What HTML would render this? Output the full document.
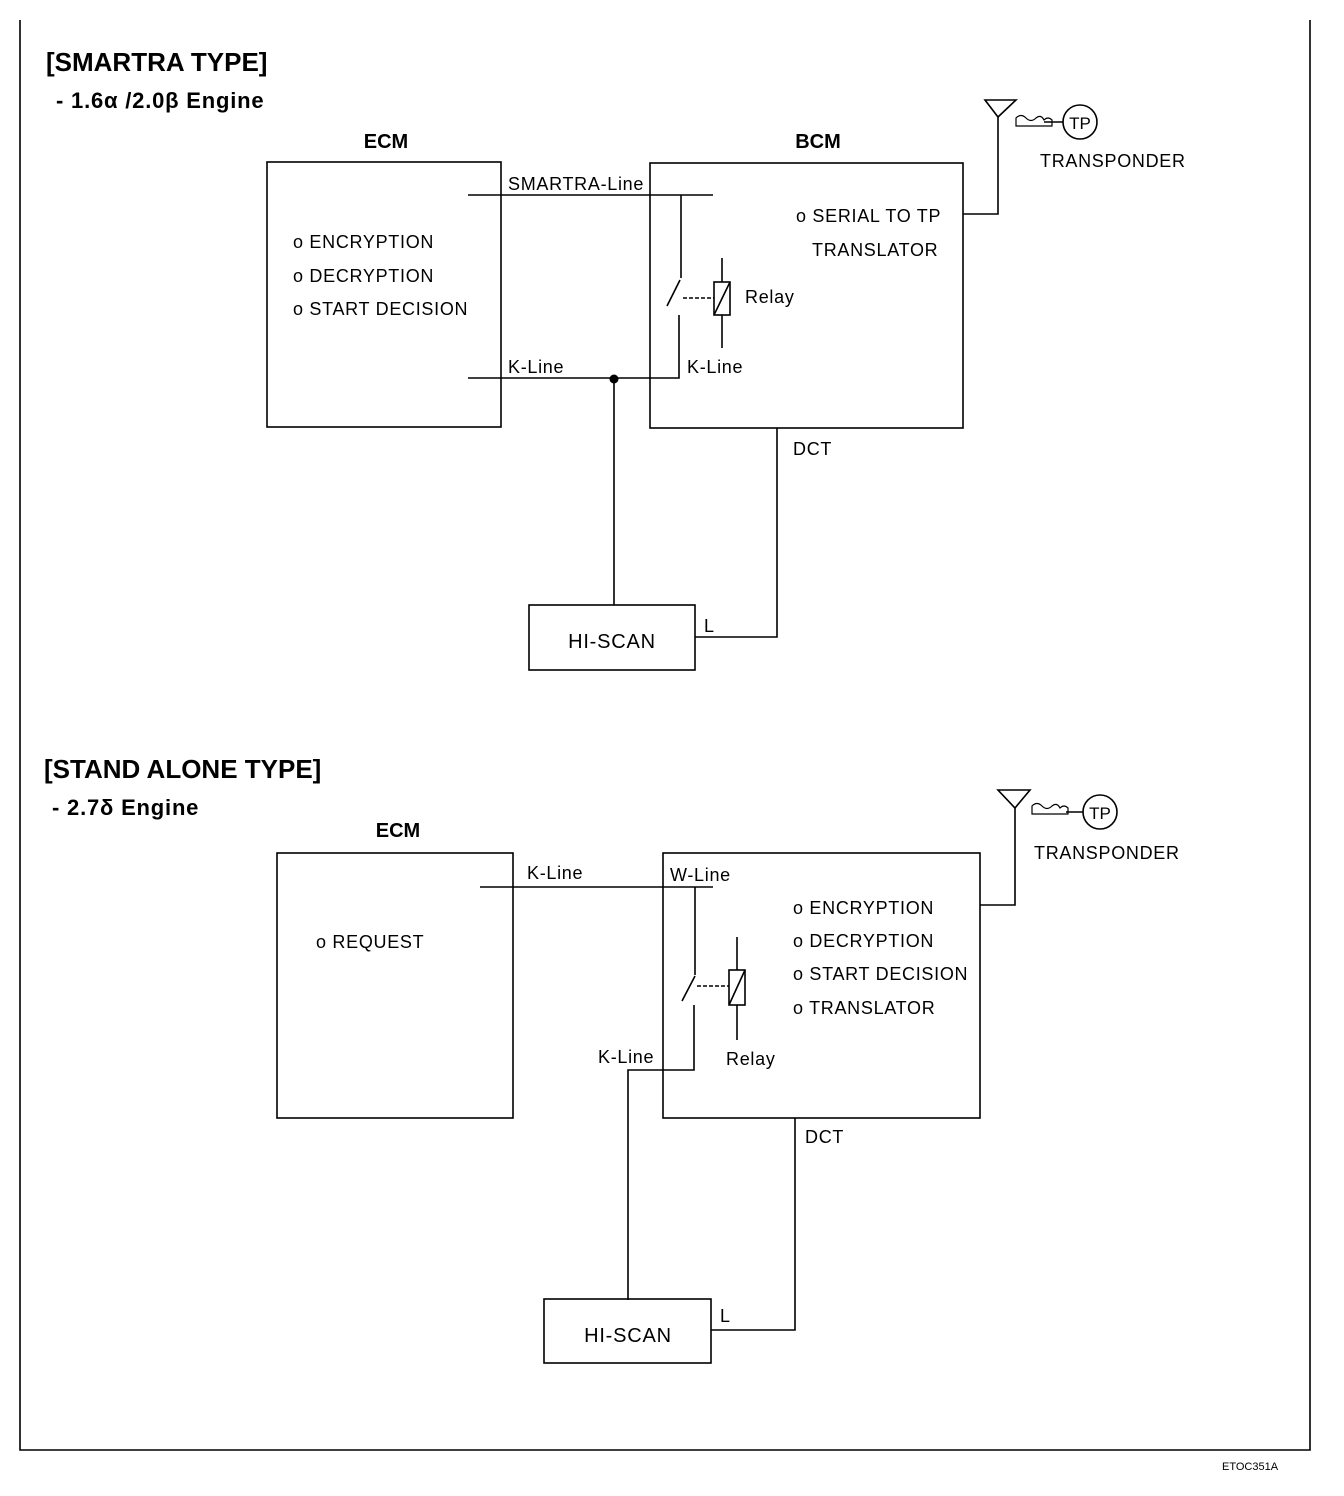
<!DOCTYPE html>
<html><head><meta charset="utf-8"><style>
html,body{margin:0;padding:0;background:#fff}
svg{display:block}
text{font-family:"Liberation Sans",sans-serif;fill:#000}
.t{font-size:18px;letter-spacing:0.7px}
.b{font-weight:bold}
</style></head><body>
<svg width="1344" height="1496" viewBox="0 0 1344 1496" xmlns="http://www.w3.org/2000/svg">
<g stroke="#000" stroke-width="1.6" fill="none">
<polyline points="20,20 20,1450 1310,1450 1310,20"/>
<rect x="267" y="162" width="234" height="265"/>
<rect x="650" y="163" width="313" height="265"/>
<line x1="468" y1="195" x2="713" y2="195"/>
<line x1="681" y1="195" x2="681" y2="278"/>
<line x1="667" y1="306" x2="680" y2="280"/>
<polyline points="679,315 679,378 468,378"/>
<rect x="714" y="282" width="16" height="33"/>
<line x1="714" y1="315" x2="730" y2="282"/>
<line x1="722" y1="258" x2="722" y2="282"/>
<line x1="722" y1="315" x2="722" y2="348"/>
<line x1="683" y1="298" x2="714" y2="298" stroke-dasharray="4,2"/>
<line x1="614" y1="379" x2="614" y2="605"/>
<polyline points="777,428 777,637 695,637"/>
<rect x="529" y="605" width="166" height="65"/>
<polyline points="963,214 998,214 998,116"/>
<polygon points="985,100 1016,100 998,117"/>
<path d="M1016,118 q5,-5 10,0 q5,5 10,0 q5,-4 8,2 q4,-4 8,0 l0,6 h-36 z" stroke-width="1.2"/>
<line x1="1044" y1="122" x2="1063" y2="122"/>
<circle cx="1080" cy="122" r="17"/>
<rect x="277" y="853" width="236" height="265"/>
<rect x="663" y="853" width="317" height="265"/>
<line x1="480" y1="887" x2="713" y2="887"/>
<line x1="695" y1="887" x2="695" y2="975"/>
<line x1="682" y1="1001" x2="695" y2="976"/>
<polyline points="694,1005 694,1070 663,1070"/>
<polyline points="628,1300 628,1070 663,1070"/>
<rect x="729" y="970" width="16" height="35"/>
<line x1="729" y1="1005" x2="745" y2="970"/>
<line x1="737" y1="937" x2="737" y2="970"/>
<line x1="737" y1="1005" x2="737" y2="1040"/>
<line x1="697" y1="986" x2="729" y2="986" stroke-dasharray="4,2"/>
<polyline points="795,1118 795,1330 711,1330"/>
<rect x="544" y="1299" width="167" height="64"/>
<polyline points="980,905 1015,905 1015,807"/>
<polygon points="998,790 1030,790 1015,808"/>
<path d="M1032,806 q5,-5 10,0 q5,5 10,0 q5,-4 8,2 q4,-4 8,0 l0,6 h-36 z" stroke-width="1.2"/>
<line x1="1066" y1="812" x2="1083" y2="812"/>
<circle cx="1100" cy="812" r="17"/>
</g>
<circle cx="614" cy="379" r="4.5" fill="#000"/>
<text x="46" y="71" font-size="26" class="b">[SMARTRA TYPE]</text>
<text x="56" y="108" font-size="22" class="b" letter-spacing="0.8">- 1.6α /2.0β Engine</text>
<text x="386" y="148" font-size="20" class="b" text-anchor="middle">ECM</text>
<text x="818" y="148" font-size="20" class="b" text-anchor="middle">BCM</text>
<text x="508" y="190" class="t">SMARTRA-Line</text>
<text x="293" y="248" class="t">o ENCRYPTION</text>
<text x="293" y="282" class="t">o DECRYPTION</text>
<text x="293" y="315" class="t">o START DECISION</text>
<text x="796" y="222" class="t">o SERIAL TO TP</text>
<text x="812" y="256" class="t">TRANSLATOR</text>
<text x="745" y="303" class="t">Relay</text>
<text x="508" y="373" class="t">K-Line</text>
<text x="687" y="373" class="t">K-Line</text>
<text x="793" y="455" class="t">DCT</text>
<text x="704" y="632" class="t">L</text>
<text x="612" y="648" font-size="20" letter-spacing="0.8" text-anchor="middle">HI-SCAN</text>
<text x="1080" y="129" font-size="17" text-anchor="middle">TP</text>
<text x="1040" y="167" class="t">TRANSPONDER</text>
<text x="44" y="778" font-size="26" class="b">[STAND ALONE TYPE]</text>
<text x="52" y="815" font-size="22" class="b" letter-spacing="0.8">- 2.7δ Engine</text>
<text x="398" y="837" font-size="20" class="b" text-anchor="middle">ECM</text>
<text x="527" y="879" class="t">K-Line</text>
<text x="670" y="881" class="t">W-Line</text>
<text x="316" y="948" class="t">o REQUEST</text>
<text x="793" y="914" class="t">o ENCRYPTION</text>
<text x="793" y="947" class="t">o DECRYPTION</text>
<text x="793" y="980" class="t">o START DECISION</text>
<text x="793" y="1014" class="t">o TRANSLATOR</text>
<text x="598" y="1063" class="t">K-Line</text>
<text x="726" y="1065" class="t">Relay</text>
<text x="805" y="1143" class="t">DCT</text>
<text x="720" y="1322" class="t">L</text>
<text x="628" y="1342" font-size="20" letter-spacing="0.8" text-anchor="middle">HI-SCAN</text>
<text x="1100" y="819" font-size="17" text-anchor="middle">TP</text>
<text x="1034" y="859" class="t">TRANSPONDER</text>
<text x="1222" y="1470" font-size="11">ETOC351A</text>
</svg>
</body></html>
